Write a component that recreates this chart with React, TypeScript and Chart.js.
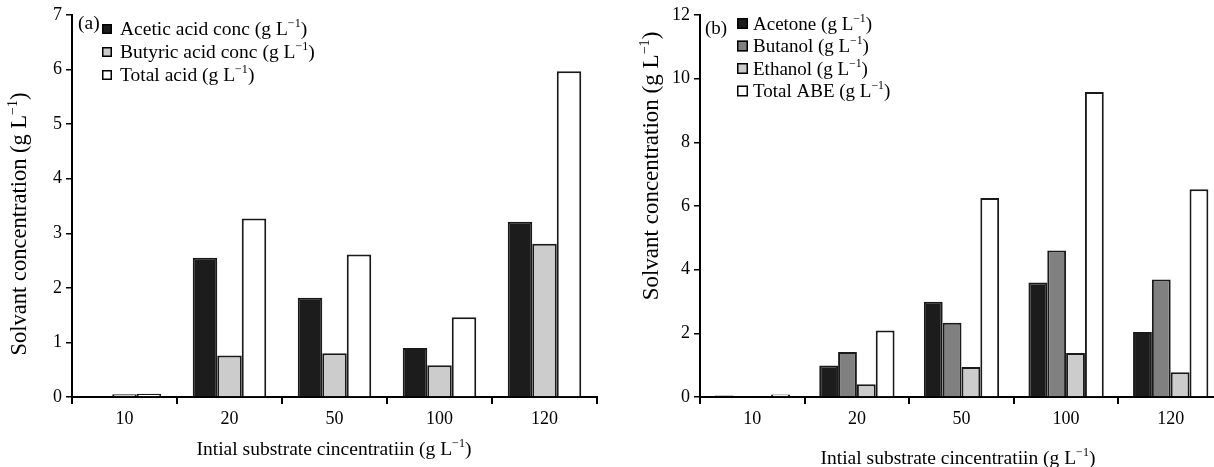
import React, { useEffect, useRef } from "react";
import { Chart, registerables } from "chart.js";
Chart.register(...registerables);

// ---------- data ----------
const categories = ["10", "20", "50", "100", "120"];

const aceticAcid = [0, 2.55, 1.82, 0.9, 3.21];
const butyricAcid = [0.05, 0.76, 0.8, 0.58, 2.81];
const totalAcid = [0.06, 3.27, 2.61, 1.46, 5.97];

const acetone = [0.05, 0.99, 2.99, 3.6, 2.04];
const butanol = [0.03, 1.41, 2.33, 4.6, 3.69];
const ethanol = [0, 0.4, 0.94, 1.38, 0.78];
const totalABE = [0.08, 2.09, 6.25, 9.58, 6.53];

const yTitle = "Solvant concentration (g L";
const xTitle = "Intial substrate cincentratiin (g L";
const legendA = ["Acetic acid conc (g L", "Butyric acid conc (g L", "Total acid (g L"];
const legendB = ["Acetone (g L", "Butanol (g L", "Ethanol (g L", "Total ABE (g L"];
const SUP = "\u22121";

const FONT = '"Liberation Serif", "Times New Roman", serif';
const BORDER = "#1a1a1a";

type Part = { t: string; sup?: boolean };
const unitParts = (base: string): Part[] => [{ t: base }, { t: SUP, sup: true }, { t: ")" }];

function drawRich(ctx: CanvasRenderingContext2D, parts: Part[], x: number, y: number, size: number, align: "left" | "center") {
  const supSize = size * 0.62;
  const widths = parts.map((p) => {
    ctx.font = `${p.sup ? supSize : size}px ${FONT}`;
    return ctx.measureText(p.t).width;
  });
  const total = widths.reduce((a, b) => a + b, 0);
  let cx = align === "center" ? x - total / 2 : x;
  ctx.textAlign = "left";
  ctx.textBaseline = "alphabetic";
  parts.forEach((p, i) => {
    ctx.font = `${p.sup ? supSize : size}px ${FONT}`;
    ctx.fillText(p.t, cx, p.sup ? y - size * 0.42 : y);
    cx += widths[i];
  });
}

const overlayPlugin = {
  id: "overlay",
  afterDraw(chart: any, _args: any, o: any) {
    const ctx: CanvasRenderingContext2D = chart.ctx;
    ctx.save();
    ctx.fillStyle = "#000";
    // y title
    ctx.save();
    ctx.translate(o.yTitleX, o.yTitleY);
    ctx.rotate(-Math.PI / 2);
    drawRich(ctx, unitParts(yTitle), 0, o.yTitleSize * 0.32, o.yTitleSize, "center");
    ctx.restore();
    // x title
    drawRich(ctx, unitParts(xTitle), o.xTitleX, o.xTitleY + o.xTitleSize * 0.32, o.xTitleSize, "center");
    // tag
    ctx.font = `${o.legendSize}px ${FONT}`;
    ctx.textAlign = "left";
    ctx.textBaseline = "alphabetic";
    ctx.fillText(o.tag, o.tagX, o.tagY + o.legendSize * 0.32);
    // legend
    o.items.forEach((it: any, i: number) => {
      const cy = o.rowY + i * o.rowGap;
      ctx.fillStyle = it.fill;
      ctx.fillRect(o.boxX, cy - o.box / 2, o.box, o.box);
      ctx.strokeStyle = "#000";
      ctx.lineWidth = 1.5;
      ctx.strokeRect(o.boxX + 0.75, cy - o.box / 2 + 0.75, o.box - 1.5, o.box - 1.5);
      ctx.fillStyle = "#000";
      drawRich(ctx, unitParts(it.label), o.textX, cy + o.legendSize * 0.32, o.legendSize, "left");
    });
    ctx.restore();
  },
};

function makeConfig(datasets: any[], yMax: number, yStep: number, yAxisW: number, catPct: number, padRight: number, overlay: any) {
  return {
    type: "bar" as const,
    data: {
      labels: categories,
      datasets: datasets.map((d) => ({
        label: d.label,
        data: d.data,
        backgroundColor: d.fill,
        borderColor: BORDER,
        borderWidth: 2,
        categoryPercentage: catPct,
        barPercentage: 1.0,
      })),
    },
    options: {
      responsive: false,
      animation: false,
      devicePixelRatio: 1,
      layout: { padding: { top: 15, right: padRight, bottom: 0, left: 0 } },
      plugins: { legend: { display: false }, tooltip: { enabled: false }, overlay },
      scales: {
        x: {
          type: "category",
          offset: true,
          grid: { offset: true, drawOnChartArea: false, drawTicks: true, tickLength: 7, color: "#000", lineWidth: 2 },
          border: { display: true, color: "#000", width: 2 },
          ticks: { color: "#000", font: { family: FONT, size: 18 }, padding: 4 },
          afterFit: (s: any) => { s.height = 70; },
        },
        y: {
          min: 0,
          max: yMax,
          grid: { drawOnChartArea: false, drawTicks: true, tickLength: 6, color: "#000", lineWidth: 1.5 },
          border: { display: true, color: "#000", width: 2 },
          ticks: { stepSize: yStep, color: "#000", font: { family: FONT, size: 18 }, padding: 4 },
          afterFit: (s: any) => { s.width = yAxisW; },
        },
      },
    },
    plugins: [overlayPlugin],
  };
}

function BarPanel(props: { left: number; width: number; config: any }) {
  const ref = useRef<HTMLCanvasElement | null>(null);
  useEffect(() => {
    if (!ref.current) return;
    const chart = new Chart(ref.current, props.config);
    return () => chart.destroy();
  }, []);
  return (
    <div style={{ position: "absolute", left: props.left, top: 0, width: props.width, height: 467 }}>
      <canvas ref={ref} width={props.width} height={467} style={{ display: "block" }} />
    </div>
  );
}

const configA = makeConfig(
  [
    { label: "Acetic acid conc", data: aceticAcid, fill: "#1c1c1c" },
    { label: "Butyric acid conc", data: butyricAcid, fill: "#cccccc" },
    { label: "Total acid", data: totalAcid, fill: "#ffffff" },
  ],
  7, 1, 72, 0.7, 3,
  {
    yTitleX: 19, yTitleY: 224, yTitleSize: 22.5,
    xTitleX: 334, xTitleY: 449, xTitleSize: 19.5,
    tag: "(a)", tagX: 78, tagY: 23, legendSize: 19.5,
    boxX: 102, box: 10, textX: 120, rowY: 29, rowGap: 23,
    items: [
      { label: legendA[0], fill: "#1c1c1c" },
      { label: legendA[1], fill: "#cccccc" },
      { label: legendA[2], fill: "#ffffff" },
    ],
  }
);

const configB = makeConfig(
  [
    { label: "Acetone", data: acetone, fill: "#1c1c1c" },
    { label: "Butanol", data: butanol, fill: "#808080" },
    { label: "Ethanol", data: ethanol, fill: "#cccccc" },
    { label: "Total ABE", data: totalABE, fill: "#ffffff" },
  ],
  12, 2, 100, 0.72, 7,
  {
    yTitleX: 51, yTitleY: 166, yTitleSize: 23,
    xTitleX: 358, xTitleY: 458, xTitleSize: 19.5,
    tag: "(b)", tagX: 105, tagY: 28, legendSize: 19,
    boxX: 137, box: 11, textX: 153, rowY: 23.5, rowGap: 22.5,
    items: [
      { label: legendB[0], fill: "#1c1c1c" },
      { label: legendB[1], fill: "#808080" },
      { label: legendB[2], fill: "#cccccc" },
      { label: legendB[3], fill: "#ffffff" },
    ],
  }
);

export default function App() {
  return (
    <div style={{ position: "fixed", left: 0, top: 0, width: 1214, height: 467, overflow: "hidden", background: "#fff" }}>
      <BarPanel left={0} width={600} config={configA} />
      <BarPanel left={600} width={630} config={configB} />
    </div>
  );
}
